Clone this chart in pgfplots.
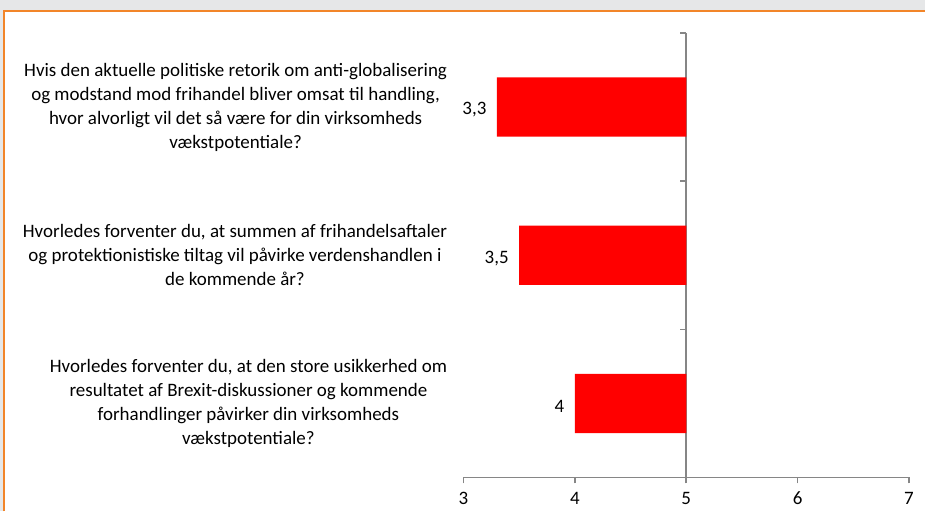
\documentclass[border=0pt]{standalone}
\usepackage{fontspec}
\setmainfont{Carlito}
\usepackage{pgfplots}
\pgfplotsset{compat=1.18}
\usepackage{pgfplotstable}
\definecolor{orangeB}{RGB}{242,133,41}
\definecolor{greyBG}{RGB}{230,231,232}
\definecolor{axgrey}{RGB}{134,134,134}
\pgfplotstableread{
y v lab
2 3.3 {3,3}
1 3.5 {3,5}
0 4 {4}
}\datatab
\begin{document}
\begin{tikzpicture}[x=1pt,y=1pt]
\fill[greyBG] (0,0) rectangle (926,512);
\fill[white] (4,0) rectangle (926,501);
\draw[orangeB, line width=2pt] (4,0) -- (4,501) -- (926,501);
\useasboundingbox (0,0) rectangle (926,512);
\begin{axis}[
  at={(464pt,34pt)}, anchor=south west,
  scale only axis, width=446pt, height=445pt,
  x coord trafo/.code={\pgfmathparse{#1-5}},
  x coord inv trafo/.code={\pgfmathparse{#1+5}},
  xmin=3, xmax=7, ymin=-0.5, ymax=2.5,
  xtick={3,4,5,6,7},
  ytick={0.5,1.5,2.5}, yticklabels={},
  axis x line=bottom, axis y line=middle,
  x axis line style={-, axgrey, line width=1.6pt},
  y axis line style={-, axgrey, line width=1.6pt},
  tick style={axgrey, line width=1.6pt},
  major tick length=6pt,
  tick align=outside,
  /pgf/number format/assume math mode=true,
  ticklabel style={font=\fontsize{19}{23}\selectfont, text=black},
  xticklabel style={yshift=-5pt},
  xbar, bar width=0.4,
  point meta=explicit symbolic,
  nodes near coords,
  every node near coord/.append style={anchor=east, xshift=-7pt, yshift=-3pt, font=\fontsize{19}{23}\selectfont, text=black},
  clip=false,
]
\addplot[fill=red, draw=none] table[x=v, y=y, meta=lab] {\datatab};
\node[anchor=east, align=center, font=\fontsize{19}{24}\selectfont, xshift=-13pt] at (rel axis cs:0,0.8333) {Hvis den aktuelle politiske retorik om anti-globalisering\\og modstand mod frihandel bliver omsat til handling,\\hvor alvorligt vil det så være for din virksomheds\\vækstpotentiale?};
\node[anchor=east, align=center, font=\fontsize{19}{24}\selectfont, xshift=-13pt] at (rel axis cs:0,0.5) {Hvorledes forventer du, at summen af frihandelsaftaler\\og protektionistiske tiltag vil påvirke verdenshandlen i\\de kommende år?};
\node[anchor=east, align=center, font=\fontsize{19}{24}\selectfont, xshift=-13pt] at (rel axis cs:0,0.1667) {Hvorledes forventer du, at den store usikkerhed om\\resultatet af Brexit-diskussioner og kommende\\forhandlinger påvirker din virksomheds\\vækstpotentiale?};
\end{axis}
\end{tikzpicture}
\end{document}
